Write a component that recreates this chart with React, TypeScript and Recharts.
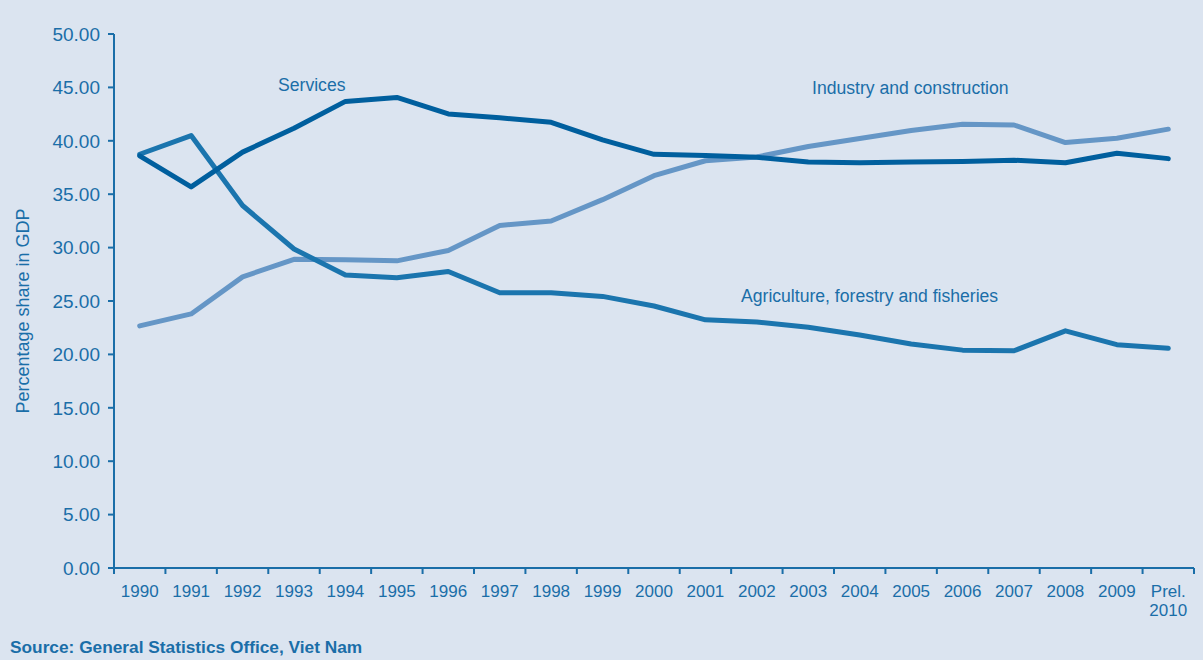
import { LineChart, Line, XAxis, YAxis } from 'recharts'

const BG = '#dbe4f0'
const TEXT = '#1a6ea8'
const AXIS = '#1a6ea8'
const SERVICES = '#005f9e'
const AGRI = '#1b75ae'
const INDUSTRY = '#6596c6'
const FONT = '"Liberation Sans", Arial, sans-serif'

const years = [
  '1990', '1991', '1992', '1993', '1994', '1995', '1996', '1997', '1998', '1999', '2000',
  '2001', '2002', '2003', '2004', '2005', '2006', '2007', '2008', '2009', 'Prel.\n2010',
]
const services = [38.59, 35.68, 38.94, 41.17, 43.69, 44.06, 42.51, 42.15, 41.73, 40.08, 38.73, 38.63, 38.46, 38.01, 37.95, 38.01, 38.07, 38.18, 37.94, 38.84, 38.33]
const agriculture = [38.74, 40.49, 33.94, 29.87, 27.43, 27.18, 27.76, 25.77, 25.78, 25.43, 24.53, 23.24, 23.03, 22.54, 21.81, 20.97, 20.4, 20.34, 22.21, 20.91, 20.58]
const industry = [22.67, 23.79, 27.26, 28.9, 28.87, 28.76, 29.73, 32.08, 32.49, 34.49, 36.73, 38.13, 38.49, 39.47, 40.21, 40.97, 41.54, 41.48, 39.84, 40.24, 41.09]
const yTicks = [0, 5, 10, 15, 20, 25, 30, 35, 40, 45, 50]

// points sit in the middle of each band, ticks on the band edges
const data = years.map((label, i) => ({
  x: i + 0.5,
  label,
  services: services[i],
  agriculture: agriculture[i],
  industry: industry[i],
}))
const xTicks = Array.from({ length: years.length * 2 + 1 }, (_, i) => i / 2)

function XTick(props: any) {
  const { x, y, payload } = props
  const v = payload.value
  if (Number.isInteger(v)) {
    return <line x1={x} x2={x} y1={y} y2={y + 6} stroke={AXIS} strokeWidth={2} />
  }
  const lines = years[Math.floor(v)].split('\n')
  return (
    <text x={x} y={y + 29} textAnchor="middle" fill={TEXT} fontSize={17} fontFamily={FONT}>
      {lines.map((l, i) => (
        <tspan key={i} x={x} dy={i === 0 ? 0 : 19}>{l}</tspan>
      ))}
    </text>
  )
}

const lineProps = {
  type: 'linear' as const,
  strokeWidth: 5,
  dot: false,
  activeDot: false,
  isAnimationActive: false,
  strokeLinecap: 'round' as const,
  strokeLinejoin: 'round' as const,
}

export default function App() {
  return (
    <div style={{ position: 'relative', width: 1203, height: 660, background: BG, fontFamily: FONT }}>
      <style>{'body{margin:0}'}</style>
      <LineChart width={1203} height={660} data={data} margin={{ top: 34, right: 9, bottom: 0, left: 0 }}>
        <XAxis
          dataKey="x"
          type="number"
          domain={[0, years.length]}
          ticks={xTicks}
          interval={0}
          height={92}
          tickSize={0}
          tickMargin={0}
          tickLine={false}
          axisLine={{ stroke: AXIS, strokeWidth: 2 }}
          tick={<XTick />}
        />
        <YAxis
          type="number"
          domain={[0, 50]}
          ticks={yTicks}
          interval={0}
          width={114}
          tickSize={6}
          tickMargin={8}
          tickFormatter={(v: number) => v.toFixed(2)}
          axisLine={{ stroke: AXIS, strokeWidth: 2 }}
          tickLine={{ stroke: AXIS, strokeWidth: 2 }}
          tick={{ fill: TEXT, fontSize: 19, fontFamily: FONT }}
        />
        <Line dataKey="industry" stroke={INDUSTRY} {...lineProps} />
        <Line dataKey="agriculture" stroke={AGRI} {...lineProps} />
        <Line dataKey="services" stroke={SERVICES} {...lineProps} />
      </LineChart>
      <svg width={1203} height={660} style={{ position: 'absolute', left: 0, top: 0, pointerEvents: 'none' }}>
        <g fill={TEXT} fontFamily={FONT} fontSize={17.6}>
          <text x={278} y={91}>Services</text>
          <text x={812} y={94}>Industry and construction</text>
          <text x={741} y={302}>Agriculture, forestry and fisheries</text>
          <text x={29} y={311} textAnchor="middle" transform="rotate(-90, 29, 311)" fontSize={18}>
            Percentage share in GDP
          </text>
          <text x={10} y={653} fontWeight="bold" fontSize={17.3}>Source: General Statistics Office, Viet Nam</text>
        </g>
      </svg>
    </div>
  )
}
